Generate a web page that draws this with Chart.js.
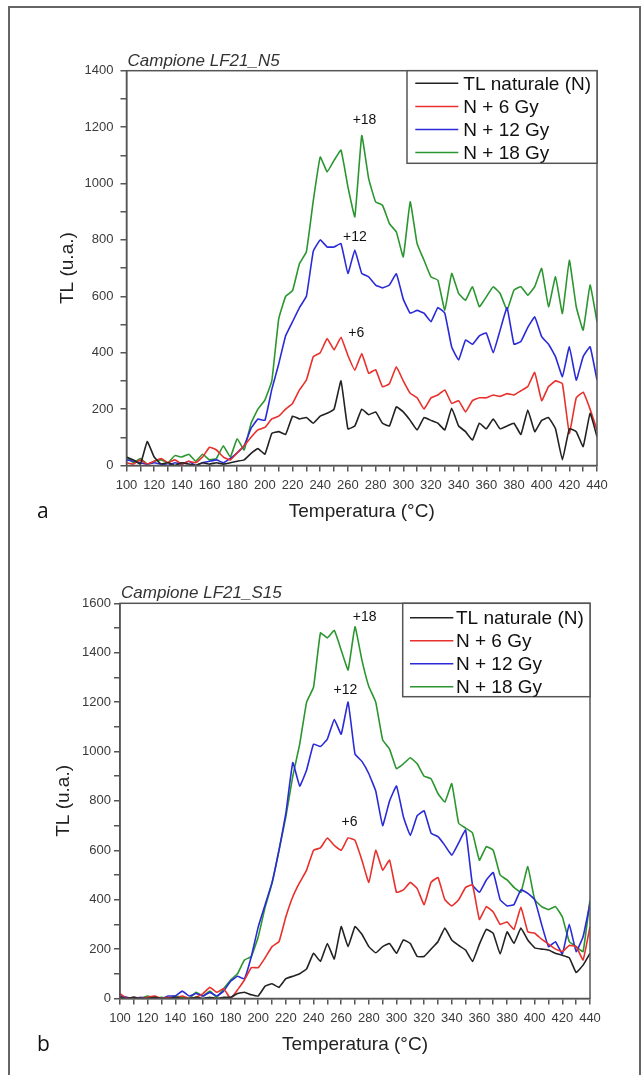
<!doctype html>
<html lang="it">
<head>
    <meta charset="utf-8">
    <title>TL - Campioni LF21</title>
    <style>
        * {
            margin: 0;
            padding: 0;
        }

        body {
            width: 642px;
            height: 1075px;
            position: relative;
            overflow: hidden;
            background: #fff;
        }

        .frame {
            position: absolute;
            left: 8px;
            top: 6px;
            width: 629px;
            height: 1100px;
            border: 2px solid #666;
        }

        .chartBox {
            position: absolute;
            left: 0;
            width: 642px;
        }

        #boxA { top: 0; height: 540px; }
        #boxB { top: 540px; height: 535px; }
    </style>
</head>
<body>
<div class="frame"></div>
<div class="chartBox" id="boxA"><canvas id="chartA" width="642" height="540"></canvas></div>
<div class="chartBox" id="boxB"><canvas id="chartB" width="642" height="535"></canvas></div>

<script src="https://cdn.jsdelivr.net/npm/chart.js"></script>
<script>
    // data (temperature in °C, TL in u.a.)
    const temps = [100, 105, 110, 115, 120, 125, 130, 135, 140, 145,
        150, 155, 160, 165, 170, 175, 180, 185, 190, 195,
        200, 205, 210, 215, 220, 225, 230, 235, 240, 245,
        250, 255, 260, 265, 270, 275, 280, 285, 290, 295,
        300, 305, 310, 315, 320, 325, 330, 335, 340, 345,
        350, 355, 360, 365, 370, 375, 380, 385, 390, 395,
        400, 405, 410, 415, 420, 425, 430, 435, 440];

    const labels = ['TL naturale (N)', 'N + 6 Gy', 'N + 12 Gy', 'N + 18 Gy'];

    // sample LF21_N5
    const naturaleA = [30, 20, 5, 85, 30, 5, 10, 0, 10, 5,
        0, 10, 5, 10, 5, 10, 15, 20, 43, 60,
        40, 114, 120, 110, 175, 165, 170, 150, 175, 185,
        200, 300, 130, 140, 200, 180, 190, 150, 140, 208,
        190, 160, 126, 170, 160, 150, 126, 203, 140, 120,
        90, 150, 130, 165, 130, 140, 150, 110, 197, 120,
        160, 170, 130, 20, 130, 120, 67, 185, 102];
    const gy6A = [10, 5, 20, 5, 15, 25, 10, 20, 5, 15,
        10, 30, 65, 55, 30, 20, 45, 70, 100, 126,
        135, 165, 175, 200, 220, 268, 303, 386, 400, 450,
        410, 455, 390, 338, 397, 327, 340, 279, 290, 350,
        300, 256, 240, 200, 240, 250, 268, 220, 230, 190,
        230, 240, 240, 250, 245, 255, 250, 265, 280, 330,
        230, 280, 300, 290, 114, 240, 260, 200, 126];
    const gy12A = [20, 15, 10, 5, 10, 5, 0, 10, 5, 15,
        0, 10, 15, 20, 10, 25, 45, 70, 132, 165,
        160, 270, 360, 460, 510, 560, 600, 760, 800, 775,
        775, 787, 681, 764, 681, 669, 640, 630, 640, 680,
        590, 540, 550, 540, 510, 560, 540, 420, 374, 445,
        430, 460, 470, 400, 480, 560, 430, 440, 490, 527,
        457, 430, 386, 315, 421, 303, 386, 421, 303];
    const gy18A = [30, 10, 25, 5, 15, 20, 10, 35, 30, 40,
        15, 40, 20, 25, 70, 30, 95, 55, 150, 200,
        232, 300, 520, 600, 620, 716, 758, 940, 1094, 1041,
        1082, 1118, 988, 882, 1170, 1017, 935, 923, 858, 828,
        740, 935, 787, 728, 669, 657, 551, 681, 610, 586,
        634, 563, 598, 634, 610, 551, 622, 634, 604, 634,
        699, 563, 669, 539, 728, 563, 480, 640, 510];

    // sample LF21_S15
    const naturaleB = [5, 0, 5, 0, 0, 5, 0, 0, 5, 0,
        0, 5, 0, 5, 0, 5, 5, 20, 25, 15,
        10, 50, 60, 45, 80, 90, 100, 120, 183, 150,
        223, 160, 291, 210, 291, 260, 210, 185, 210, 223,
        183, 237, 223, 170, 170, 200, 230, 285, 237, 215,
        196, 150, 220, 280, 264, 180, 270, 223, 285, 237,
        205, 200, 196, 183, 175, 165, 105, 135, 183];
    const gy6B = [20, 0, 5, 0, 5, 10, 0, 5, 0, 10,
        0, 5, 20, 45, 25, 40, 0, 35, 75, 125,
        125, 165, 210, 230, 331, 412, 470, 520, 600, 610,
        650, 620, 600, 650, 640, 560, 470, 600, 520, 560,
        430, 440, 470, 445, 380, 470, 490, 400, 375, 400,
        450, 460, 320, 372, 350, 300, 310, 280, 370, 270,
        264, 240, 220, 200, 190, 215, 210, 156, 291];
    const gy12B = [10, 5, 0, 5, 0, 5, 0, 10, 10, 30,
        10, 20, 10, 25, 10, 30, 70, 90, 80, 170,
        290, 380, 470, 600, 750, 955, 860, 925, 1030, 1020,
        1050, 1130, 1070, 1200, 990, 960, 910, 840, 700, 800,
        860, 736, 660, 740, 760, 670, 655, 620, 580, 630,
        682, 460, 430, 480, 510, 400, 375, 380, 440, 426,
        400, 300, 210, 230, 180, 300, 190, 250, 385];
    const gy18B = [10, 0, 5, 0, 10, 0, 5, 0, 10, 5,
        0, 25, 10, 30, 5, 40, 75, 100, 156, 170,
        250, 370, 466, 600, 736, 900, 1030, 1200, 1260, 1480,
        1460, 1490, 1411, 1330, 1505, 1370, 1263, 1200, 1047, 1010,
        930, 950, 975, 950, 900, 890, 830, 795, 870, 709,
        690, 670, 560, 615, 600, 500, 480, 450, 430, 534,
        400, 372, 360, 372, 330, 230, 210, 190, 399];

    // peak labels: [text, temperature, TL]
    const notesA = [['+18', 272, 1224], ['+12', 265, 810], ['+6', 266, 470]];
    const notesB = [['+18', 277, 1542], ['+12', 263, 1249], ['+6', 266, 716]];

    const colors = ['#222222', '#e8302c', '#2a2ad8', '#2b962f'];
    const FONT = '"Liberation Sans", Arial, sans-serif';

    Chart.defaults.font.family = FONT;

    // frame, legend, peak labels, sample title and panel letter
    const decor = {
        id: 'decor',
        afterDraw(chart, args, opts) {
            const {ctx, chartArea: {left, top, right, bottom}, scales: {x, y}} = chart;
            ctx.save();

            ctx.strokeStyle = '#555';
            ctx.lineWidth = 1.5;
            ctx.strokeRect(left, top, right - left, bottom - top);

            ctx.fillStyle = '#111';
            ctx.font = '14px ' + FONT;
            ctx.textAlign = 'center';
            ctx.textBaseline = 'middle';
            opts.notes.forEach(n => {
                ctx.fillText(n[0], x.getPixelForValue(n[1]), y.getPixelForValue(n[2]));
            });

            // legend
            const lg = opts.legend;
            const bx = right - lg.width;
            ctx.fillStyle = '#fff';
            ctx.fillRect(bx, top, lg.width, lg.height);
            ctx.strokeStyle = '#555';
            ctx.strokeRect(bx, top, lg.width, lg.height);
            ctx.font = '19px ' + FONT;
            ctx.textAlign = 'left';
            chart.data.datasets.forEach((ds, i) => {
                const cy = top + lg.first + i * lg.step;
                ctx.strokeStyle = ds.borderColor;
                ctx.lineWidth = 1.5;
                ctx.beginPath();
                ctx.moveTo(bx + lg.lineFrom, cy);
                ctx.lineTo(bx + lg.lineTo, cy);
                ctx.stroke();
                ctx.fillStyle = '#111';
                ctx.fillText(ds.label, bx + lg.textAt, cy + 1);
            });

            // title above the plot
            ctx.textBaseline = 'alphabetic';
            ctx.fillStyle = '#333';
            ctx.font = 'italic 17px ' + FONT;
            ctx.fillText(opts.title, left + 1, top - 5);

            ctx.fillStyle = '#111';
            ctx.font = '21px "Open Sans", sans-serif';
            ctx.fillText(opts.tag, 37, bottom + 52);

            ctx.restore();
        }
    };

    function makeChart(id, series, yMax, o) {
        const datasets = series.map((s, i) => ({
            label: labels[i],
            data: temps.map((t, k) => ({x: t, y: s[k]})),
            borderColor: colors[i],
            borderWidth: 1.6,
            pointRadius: 0,
            tension: 0.1,
            fill: false
        }));

        const axisGrid = {
            drawOnChartArea: false,
            drawTicks: true,
            tickLength: 6,
            color: '#555',
            lineWidth: 1.5
        };

        return new Chart(document.getElementById(id), {
            type: 'line',
            data: {datasets},
            options: {
                responsive: false,
                animation: false,
                layout: {padding: o.padding},
                plugins: {
                    legend: {display: false},
                    tooltip: {enabled: false},
                    decor: {title: o.title, notes: o.notes, legend: o.legend, tag: o.tag}
                },
                scales: {
                    x: {
                        type: 'linear',
                        min: 100,
                        max: 440,
                        grid: axisGrid,
                        border: {color: '#555', width: 1.5},
                        ticks: {
                            stepSize: 10,
                            autoSkip: false,
                            maxRotation: 0,
                            padding: 6,
                            color: '#3a3a3a',
                            font: {size: 13},
                            callback: v => (v % 20 === 0 ? v : '')
                        },
                        title: {
                            display: true,
                            text: 'Temperatura (°C)',
                            color: '#222',
                            font: {size: 19},
                            padding: {top: 0, bottom: 2}
                        },
                        afterFit: s => { s.height = 60; }
                    },
                    y: {
                        min: 0,
                        max: yMax,
                        grid: axisGrid,
                        border: {color: '#555', width: 1.5},
                        ticks: {
                            stepSize: 100,
                            padding: o.yPad,
                            color: '#3a3a3a',
                            font: {size: 13},
                            callback: v => (v % 200 === 0 ? v : '')
                        },
                        title: {
                            display: true,
                            text: 'TL (u.a.)',
                            color: '#222',
                            font: {size: 19},
                            padding: {top: o.titlePad, bottom: 0}
                        },
                        afterFit: s => { s.width = o.yWidth; }
                    }
                }
            },
            plugins: [decor]
        });
    }

    const chartA = makeChart('chartA', [naturaleA, gy6A, gy12A, gy18A], 1400, {
        padding: {left: 50, top: 70.7, right: 45, bottom: 14.5},
        yWidth: 76.5,
        yPad: 7,
        titlePad: 6,
        title: 'Campione LF21_N5',
        tag: 'a',
        notes: notesA,
        legend: {width: 190, height: 92.6, first: 12.6, step: 23.1, lineFrom: 8.3, lineTo: 51.3, textAt: 56.3}
    });

    const chartB = makeChart('chartB', [naturaleB, gy6B, gy12B, gy18B], 1600, {
        padding: {left: 46, top: 63.3, right: 52, bottom: 16.5},
        yWidth: 74,
        yPad: 3,
        titlePad: 6.6,
        title: 'Campione LF21_S15',
        tag: 'b',
        notes: notesB,
        legend: {width: 187.3, height: 93.4, first: 14.4, step: 23, lineFrom: 7.3, lineTo: 50.6, textAt: 53.3}
    });
</script>
</body>
</html>
